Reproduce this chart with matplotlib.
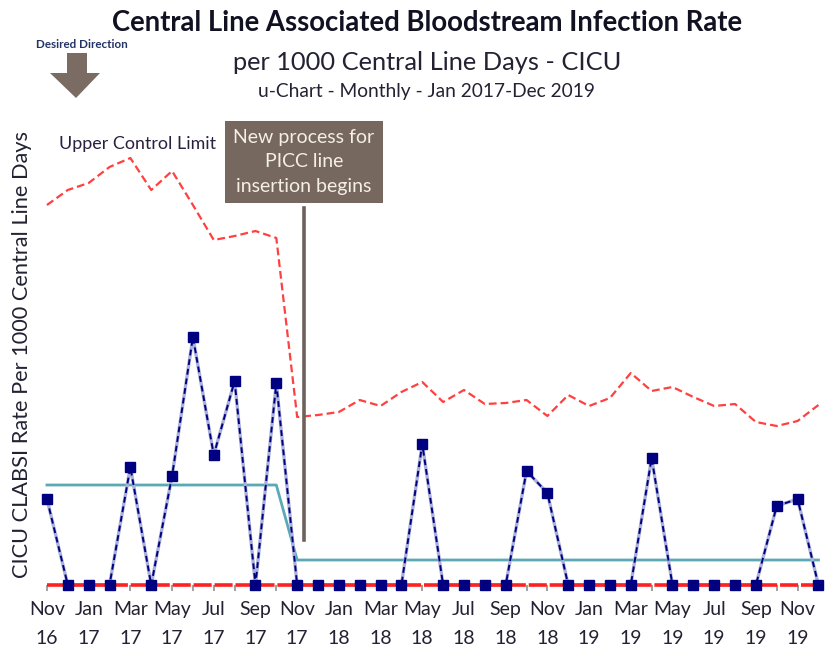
import numpy as np
import matplotlib
matplotlib.use('Agg')
import matplotlib.pyplot as plt
from matplotlib.patches import Polygon

plt.rcParams['font.family'] = ['Lato', 'DejaVu Sans']

# monthly points Nov 2016 - Dec 2019
years = ['16', '16'] + ['17'] * 12 + ['18'] * 12 + ['19'] * 12
months = (['Nov', 'Dec'] + ['Jan', 'Feb', 'Mar', 'Apr', 'May', 'Jun',
                            'Jul', 'Aug', 'Sep', 'Oct', 'Nov', 'Dec'] * 3)

rate = [1.72, 0, 0, 0, 2.36, 0, 2.18, 4.96, 2.60, 4.08, 0, 4.04,
        0, 0, 0, 0, 0, 0, 2.82, 0, 0, 0, 0, 2.28,
        1.84, 0, 0, 0, 0, 2.54, 0, 0, 0, 0, 0, 1.58,
        1.72, 0]
center = [2.0] * 12 + [0.5] * 26
ucl = [7.60, 7.90, 8.04, 8.36, 8.54, 7.90, 8.28, 7.60, 6.90, 6.98, 7.08, 6.94,
       3.36, 3.40, 3.46, 3.70, 3.58, 3.86, 4.06, 3.66, 3.90, 3.62, 3.64, 3.70,
       3.38, 3.80, 3.58, 3.74, 4.24, 3.88, 3.96, 3.76, 3.58, 3.62, 3.26, 3.18,
       3.28, 3.60]
lcl = [0.0] * 38
change_at = 12.32

W, H = 828, 650
fig = plt.figure(figsize=(W / 100, H / 100), dpi=100)
ax = fig.add_axes([40.7 / W, 65 / H, 784 / W, 475 / H])

x = np.arange(len(rate))

ax.plot(x, ucl, color='#ff4040', lw=1.6, dashes=(3.5, 1.8), clip_on=False, zorder=2)
ax.plot(x, center, color='#5aa9b5', lw=2, clip_on=False, zorder=3)
ax.plot(x, rate, color='#aab0d8', lw=2.4, clip_on=False, zorder=4)
ax.plot(x, rate, color='#000080', lw=1.4, dashes=(3, 2), clip_on=False, zorder=4)
ax.plot(x, lcl, color='#ff2020', lw=2.6, dashes=(5, 0.8), clip_on=False, zorder=5)
ax.plot(x, rate, ls='none', marker='s', ms=7, mfc='#000080', mec='#000080',
        clip_on=False, zorder=6)

# annotation for process change
ax.plot([change_at, change_at], [0.9, 7.55], color='#6e625c', lw=2.6, zorder=6)
ax.text(change_at, 8.46, 'New process for\nPICC line\ninsertion begins', ha='center', va='center',
        fontsize=14, color='#f5efe6', linespacing=1.55, zorder=7,
        bbox=dict(boxstyle='square,pad=0.42', fc='#77685f', ec='none'))

ax.text(0.6, 8.82, 'Upper Control Limit', fontsize=12.9, color='#2a2040', va='center')

ax.set_xlim(-0.3, 37.3)
ax.set_ylim(0, 9.5)
ax.set_xticks(x)
ax.set_xticklabels([f'{m}\n{y}' if i % 2 == 0 else '' for i, (m, y) in enumerate(zip(months, years))],
                   fontsize=14, color='#222233', linespacing=1.85)
ax.tick_params(axis='x', length=4.5, width=1.3, color='#999999', pad=7)
ax.set_yticks([])
for s in ax.spines.values():
    s.set_visible(False)

fig.text(22 / W, 1 - 354 / H, 'CICU CLABSI Rate Per 1000 Central Line Days', rotation=90,
         ha='center', va='center', fontsize=15.7, color='#222233')

fig.text(427 / W, 1 - 23 / H, 'Central Line Associated Bloodstream Infection Rate',
         ha='center', va='center', fontsize=19.8, fontweight='bold', color='#111122')
fig.text(427 / W, 1 - 62 / H, 'per 1000 Central Line Days - CICU',
         ha='center', va='center', fontsize=18.3, color='#222233')
fig.text(427 / W, 1 - 92 / H, 'u-Chart - Monthly - Jan 2017-Dec 2019',
         ha='center', va='center', fontsize=13.8, color='#222233')

# desired direction arrow
fig.text(82 / W, 1 - 44 / H, 'Desired Direction', ha='center', va='center',
         fontsize=8.4, fontweight='bold', color='#223366')
arrow_px = [(67, 53), (87, 53), (87, 73), (100, 73), (76, 98), (50, 73), (67, 73)]
fig.patches.append(Polygon([(px / W, 1 - py / H) for px, py in arrow_px], closed=True,
                           transform=fig.transFigure, fc='#7a6b63', ec='none'))

fig.savefig('out.png', dpi=100)
